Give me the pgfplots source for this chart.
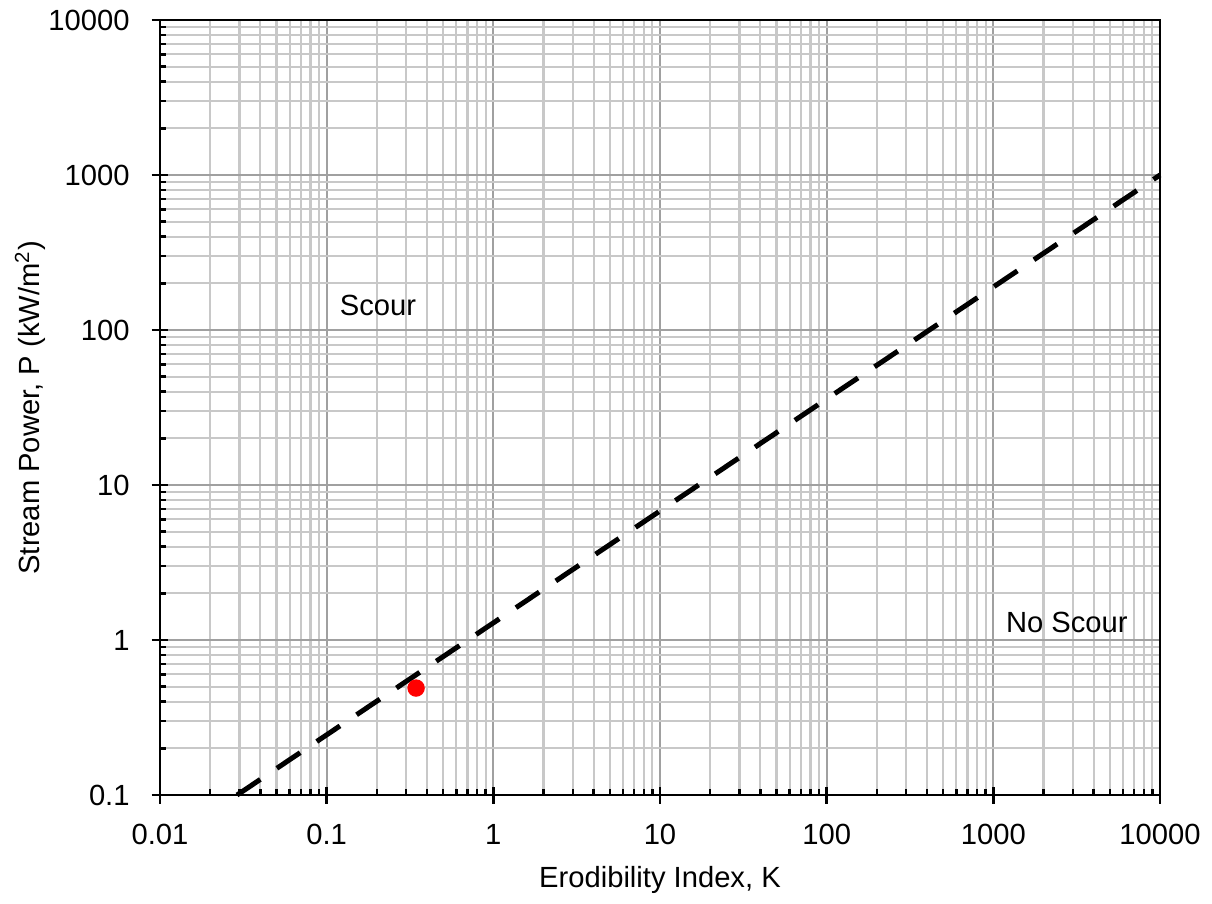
\documentclass[border=0pt]{standalone}
\usepackage{pgfplots}
\pgfplotsset{compat=1.18}
\usepackage{fontspec}
\setmainfont{Liberation Sans}
\definecolor{majgrid}{RGB}{160,160,160}
\definecolor{mingrid}{RGB}{200,200,200}
\begin{document}
\fontsize{8.3pt}{10pt}\selectfont
\begin{tikzpicture}
\begin{loglogaxis}[
  scale only axis,
  width=10cm, height=7.75cm,
  xmin=0.01, xmax=10000, ymin=0.1, ymax=10000,
  font=\fontsize{8.3pt}{10pt}\selectfont,
  xtick={0.01,0.1,1,10,100,1000,10000},
  xticklabels={0.01,0.1,1,10,100,1000,10000},
  ytick={0.1,1,10,100,1000,10000},
  yticklabels={0.1,1,10,100,1000,10000},
  tick pos=left,
  grid=both,
  major grid style={majgrid, line width=0.6pt},
  minor grid style={mingrid, line width=0.6pt},
  tick align=inside,
  major tick length=0.85mm,
  minor tick length=0.6mm,
  tick style={black, line width=0.7pt},
  axis line style={black, line width=0.7pt},
  extra x ticks={0.01,0.1,1,10,100,1000,10000},
  extra x tick labels={},
  extra y ticks={0.1,1,10,100,1000,10000},
  extra y tick labels={},
  extra tick style={tick align=outside, tick pos=left, major tick length=0.85mm, grid=none},
  xticklabel style={yshift=-1.9mm},
  yticklabel style={xshift=-2.0mm},
  xlabel={Erodibility Index, K},
  ylabel={Stream Power, P (kW/m\textsuperscript{2})},
  every axis x label/.style={at={(axis description cs:0.5,-0.11)}, anchor=center},
  every axis y label/.style={at={(axis description cs:-0.13,0.5)}, rotate=90, anchor=center},
  clip=false,
]
\addplot[black, line width=0.5mm, dash pattern=on 2.8mm off 2mm] coordinates {(0.029,0.1) (10000,1000)};
\addplot[only marks, mark=*, mark size=0.8mm, draw=red, fill=red, mark options={draw=red, fill=red}] coordinates {(0.344,0.49)};
\node at (axis cs:0.203,145) {Scour};
\node at (axis cs:2760,1.29) {No Scour};
\coordinate (bl) at (rel axis cs:-0.16,-0.129);
\coordinate (tr) at (rel axis cs:1.052,1.0232);
\end{loglogaxis}
\path (bl) rectangle (tr);
\end{tikzpicture}
\end{document}
